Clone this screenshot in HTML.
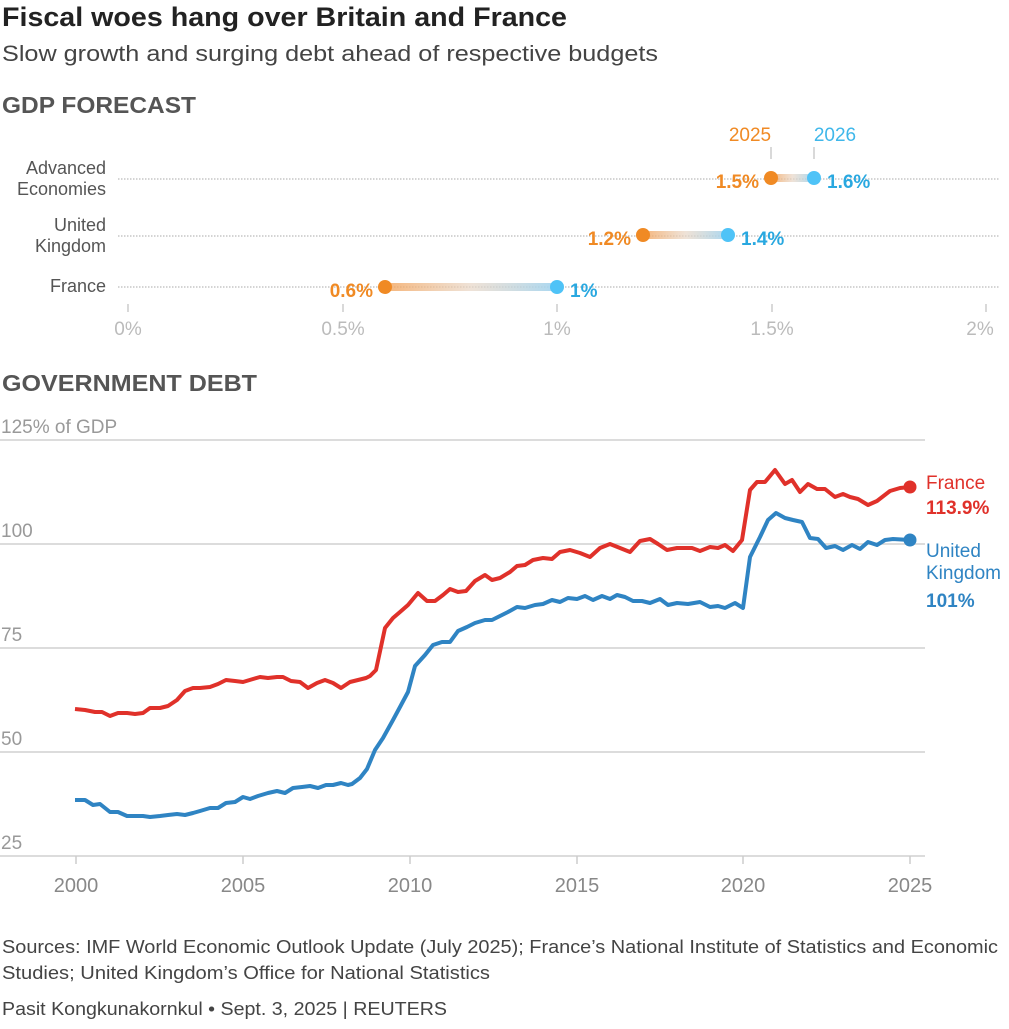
<!DOCTYPE html>
<html><head><meta charset="utf-8"><style>
body{margin:0;background:#fff;width:1009px;height:1024px;overflow:hidden;font-family:"Liberation Sans",sans-serif}
</style></head><body>
<svg width="1009" height="1024" xmlns="http://www.w3.org/2000/svg" font-family="Liberation Sans, sans-serif">
<defs>
<linearGradient id="g" x1="0" x2="1" y1="0" y2="0"><stop offset="0" stop-color="#f3a35a" stop-opacity="0.8"/><stop offset="0.5" stop-color="#e8d6c6" stop-opacity="0.7"/><stop offset="1" stop-color="#9fd3f0" stop-opacity="0.9"/></linearGradient>
</defs>
<text x="2" y="26" font-size="27" font-weight="bold" fill="#222" textLength="565" lengthAdjust="spacingAndGlyphs">Fiscal woes hang over Britain and France</text>
<text x="2" y="61" font-size="22" fill="#444" textLength="656" lengthAdjust="spacingAndGlyphs">Slow growth and surging debt ahead of respective budgets</text>
<text x="2" y="113" font-size="23" font-weight="bold" fill="#555" textLength="194" lengthAdjust="spacingAndGlyphs">GDP FORECAST</text>
<g font-size="18" fill="#555" text-anchor="end">
<text x="106" y="174">Advanced</text><text x="106" y="195">Economies</text>
<text x="106" y="231">United</text><text x="106" y="252">Kingdom</text>
<text x="106" y="292">France</text>
</g>
<g stroke="#aaa" stroke-dasharray="1.5,1.5" stroke-width="1">
<line x1="118" y1="179" x2="1000" y2="179"/><line x1="118" y1="236" x2="1000" y2="236"/><line x1="118" y1="287" x2="1000" y2="287"/>
</g>
<g stroke="#ccc" stroke-width="1.5">
<line x1="128" y1="304" x2="128" y2="312"/><line x1="343" y1="304" x2="343" y2="312"/><line x1="557" y1="304" x2="557" y2="312"/><line x1="772" y1="304" x2="772" y2="312"/><line x1="986" y1="304" x2="986" y2="312"/>
<line x1="771" y1="147" x2="771" y2="159"/><line x1="814" y1="147" x2="814" y2="159"/>
</g>
<g font-size="19" fill="#bbb" text-anchor="middle">
<text x="128" y="335">0%</text><text x="343" y="335">0.5%</text><text x="557" y="335">1%</text><text x="772" y="335">1.5%</text><text x="980" y="335">2%</text>
</g>
<text x="750" y="141" font-size="19" fill="#f08a24" text-anchor="middle">2025</text>
<text x="835" y="141" font-size="19" fill="#3fb7ea" text-anchor="middle">2026</text>
<g fill="url(#g)">
<rect x="771" y="174" width="43" height="8"/><rect x="643" y="231" width="85" height="8"/><rect x="385" y="283" width="172" height="8"/>
</g>
<g fill="#f08a24"><circle cx="771" cy="178" r="7"/><circle cx="643" cy="235" r="7"/><circle cx="385" cy="287" r="7"/></g>
<g fill="#4fc3f7"><circle cx="814" cy="178" r="7"/><circle cx="728" cy="235" r="7"/><circle cx="557" cy="287" r="7"/></g>
<g font-size="19" font-weight="bold">
<text x="759" y="188" fill="#f08a24" text-anchor="end">1.5%</text><text x="827" y="188" fill="#29a8e0">1.6%</text>
<text x="631" y="245" fill="#f08a24" text-anchor="end">1.2%</text><text x="741" y="245" fill="#29a8e0">1.4%</text>
<text x="373" y="297" fill="#f08a24" text-anchor="end">0.6%</text><text x="570" y="297" fill="#29a8e0">1%</text>
</g>
<text x="2" y="391" font-size="23" font-weight="bold" fill="#555" textLength="255" lengthAdjust="spacingAndGlyphs">GOVERNMENT DEBT</text>
<g stroke="#d0d0d0" stroke-width="1.5">
<line x1="0" y1="440" x2="925" y2="440"/><line x1="0" y1="544" x2="925" y2="544"/><line x1="0" y1="648" x2="925" y2="648"/><line x1="0" y1="752" x2="925" y2="752"/><line x1="0" y1="856" x2="925" y2="856"/>
</g>
<g font-size="19" fill="#999">
<text x="1" y="433">125% of GDP</text><text x="1" y="537">100</text><text x="1" y="641">75</text><text x="1" y="745">50</text><text x="1" y="849">25</text>
</g>
<g stroke="#ccc" stroke-width="1.5">
<line x1="76" y1="856" x2="76" y2="864"/><line x1="243" y1="856" x2="243" y2="864"/><line x1="410" y1="856" x2="410" y2="864"/><line x1="577" y1="856" x2="577" y2="864"/><line x1="743" y1="856" x2="743" y2="864"/><line x1="910" y1="856" x2="910" y2="864"/>
</g>
<g font-size="20" fill="#888" text-anchor="middle">
<text x="76" y="892">2000</text><text x="243" y="892">2005</text><text x="410" y="892">2010</text><text x="577" y="892">2015</text><text x="743" y="892">2020</text><text x="910" y="892">2025</text>
</g>
<polyline fill="none" stroke="#e0312a" stroke-width="4" stroke-linejoin="round" points="75,709 85,710 95,712 102,712 110,716 118,713 127,713 135,714 143,713 150,708 160,708 168,706 177,700 185,691 193,688 200,688 210,687 218,684 226,680 235,681 243,682 253,679 260,677 268,678 277,677 283,677 291,681 300,682 308,688 317,683 325,680 333,683 341,688 350,682 358,680 366,678 370,676 376,670 385,628 393,618 400,612 408,605 418,593 427,601 435,601 443,595 450,589 458,592 466,591 475,581 485,575 492,580 500,578 510,572 517,566 525,565 533,560 543,558 552,559 560,552 570,550 580,553 590,557 600,548 610,544 620,548 630,552 640,541 650,539 658,544 667,550 677,548 692,548 700,551 710,547 718,548 725,545 733,551 742,540 750,490 757,482 765,482 775,470 785,484 792,480 800,492 808,484 817,489 825,489 835,497 843,494 850,497 858,499 868,505 877,501 890,491 900,488 910,487"/>
<polyline fill="none" stroke="#2f84c3" stroke-width="4" stroke-linejoin="round" points="75,800 85,800 93,805 100,804 110,812 118,812 127,816 133,816 143,816 150,817 160,816 168,815 177,814 185,815 193,813 200,811 210,808 218,808 226,803 235,802 243,797 250,799 258,796 268,793 277,791 285,793 293,788 302,787 310,786 318,788 326,785 333,785 341,783 348,785 352,784 360,778 367,769 375,750 383,738 393,720 400,707 408,692 415,666 425,655 433,645 442,642 450,642 458,631 467,627 475,623 485,620 492,620 500,616 508,612 517,607 525,608 535,605 543,604 552,600 560,602 568,598 577,599 585,596 593,600 602,596 610,599 617,595 625,597 633,601 642,601 650,603 660,599 668,605 677,603 688,604 700,602 710,607 718,606 725,608 735,603 743,608 750,557 760,537 768,520 776,513 785,518 793,520 802,522 810,538 818,539 826,548 835,546 843,550 852,545 860,549 868,542 877,545 885,540 893,539 910,540"/>
<circle cx="910" cy="487" r="6.5" fill="#e0312a"/>
<circle cx="910" cy="540" r="6.5" fill="#2f84c3"/>
<text x="926" y="489" font-size="19" fill="#e0312a">France</text>
<text x="926" y="514" font-size="19" font-weight="bold" fill="#e0312a">113.9%</text>
<text x="926" y="557" font-size="19" fill="#2f84c3">United</text>
<text x="926" y="579" font-size="19" fill="#2f84c3">Kingdom</text>
<text x="926" y="607" font-size="19" font-weight="bold" fill="#2f84c3">101%</text>
<g font-size="18" fill="#444">
<text x="2" y="953" textLength="996" lengthAdjust="spacingAndGlyphs">Sources: IMF World Economic Outlook Update (July 2025); France’s National Institute of Statistics and Economic</text>
<text x="2" y="979" textLength="488" lengthAdjust="spacingAndGlyphs">Studies; United Kingdom’s Office for National Statistics</text>
<text x="2" y="1015" textLength="445" lengthAdjust="spacingAndGlyphs">Pasit Kongkunakornkul • Sept. 3, 2025 | REUTERS</text>
</g>
</svg>
</body></html>
